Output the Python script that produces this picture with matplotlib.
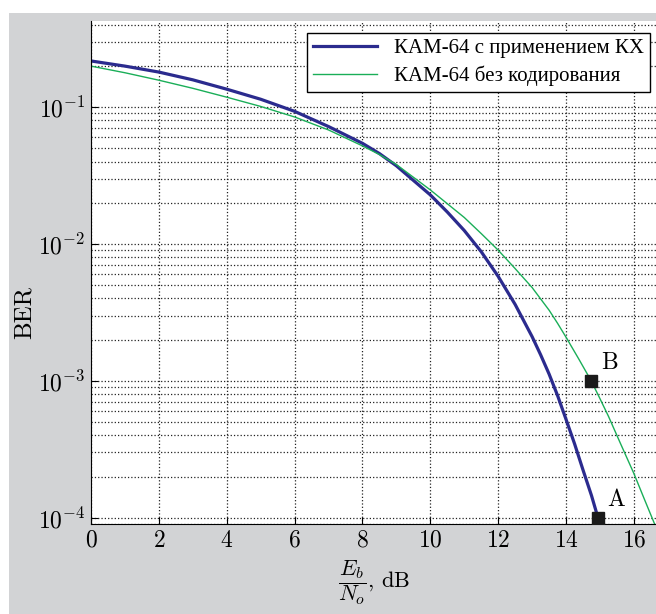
import numpy as np
import matplotlib
matplotlib.use('Agg')
import matplotlib.pyplot as plt
from matplotlib.patches import Rectangle

plt.rcParams['font.family'] = ['cmr10', 'Liberation Serif']
plt.rcParams['mathtext.fontset'] = 'cm'
plt.rcParams['axes.formatter.use_mathtext'] = True

# coded curve (KAM-64 with KX)
x_coded = [0, 1, 2, 3, 4, 5, 6, 7, 8, 8.5, 9, 10, 10.5, 11, 11.5, 12, 12.5, 13, 13.25,
           13.5, 13.75, 14, 14.25, 14.5, 14.75, 14.94]
ber_coded = [0.217, 0.199, 0.180, 0.158, 0.135, 0.114, 0.093, 0.072, 0.0543, 0.0457, 0.0372, 0.0228,
             0.0171, 0.01253, 0.00877, 0.00579, 0.00361, 0.0021, 0.00155,
             0.00112, 0.00078, 0.000522, 0.000347, 0.000223, 0.000145, 0.0001]

# uncoded curve
x_unc = [0, 1, 2, 3, 4, 5, 6, 7, 8, 8.5, 9, 10, 11, 11.5, 12, 12.5, 13, 13.5, 13.75, 14,
         14.37, 14.74, 15.0, 15.25, 15.6, 16, 16.3, 16.65]
ber_unc = [0.199, 0.178, 0.157, 0.137, 0.118, 0.101, 0.0846, 0.068, 0.052, 0.045, 0.038, 0.0248,
           0.0156, 0.0119, 0.009, 0.0066, 0.0048, 0.00328, 0.00263, 0.00208,
           0.00145, 0.001, 0.00074, 0.00055, 0.00035, 0.00021, 0.000138, 0.000085]

pts_x = [14.94, 14.74]
pts_y = [1e-4, 1e-3]
pts_lbl = ['A', 'B']

labels = ['КАМ-64 с применением КХ', 'КАМ-64 без кодирования']

fig = plt.figure(figsize=(6.56, 6.14), dpi=100)
fig.patch.set_facecolor('white')
fig.patches.append(Rectangle((9 / 656, 0), 1, 1 - 13 / 614, transform=fig.transFigure,
                             facecolor='#d2d3d5', edgecolor='none', zorder=-10))

ax = fig.add_axes([91 / 656, 1 - 524 / 614, 1 - 91 / 656, 503 / 614])
ax.set_facecolor('white')

ax.semilogy(x_coded, ber_coded, color='#2b2b8e', lw=2.3, label=labels[0])
ax.semilogy(x_unc, ber_unc, color='#1aae58', lw=1.0, label=labels[1])
ax.plot(pts_x, pts_y, 's', color='#1a1a1a', ms=9, zorder=5)
for px, py, t in zip(pts_x, pts_y, pts_lbl):
    ax.annotate(t, (px, py), xytext=(13, 13), textcoords='offset points',
                ha='center', va='center', fontsize=17, family='cmr10')

ax.set_xlim(0, 16.65)
ax.set_ylim(0.9e-4, 0.425)
ax.set_xticks(np.arange(0, 17, 2))

ax.grid(True, which='major', axis='both', ls=':', color='#222222', lw=0.9)
ax.grid(True, which='minor', axis='y', ls=':', color='#222222', lw=0.9)

ax.spines['top'].set_visible(False)
ax.spines['right'].set_visible(False)
ax.tick_params(which='major', direction='in', length=5, labelsize=17, pad=4)
ax.tick_params(which='minor', direction='in', length=0)

ax.set_xlabel(r'$\dfrac{E_b}{N_o}$, dB', fontsize=16, labelpad=5)
ax.set_ylabel('BER', fontsize=18, family='cmr10')
ax.yaxis.set_label_coords(-0.097, 0.42)

leg = ax.legend(loc='upper right', bbox_to_anchor=(0.99, 0.977), fancybox=False,
                edgecolor='black', framealpha=1, handlelength=3.1,
                prop={'family': 'Liberation Serif', 'size': 15},
                borderaxespad=0, labelspacing=0.35, borderpad=0.3)
leg.get_frame().set_linewidth(1.0)

fig.savefig('out.png', dpi=100)
